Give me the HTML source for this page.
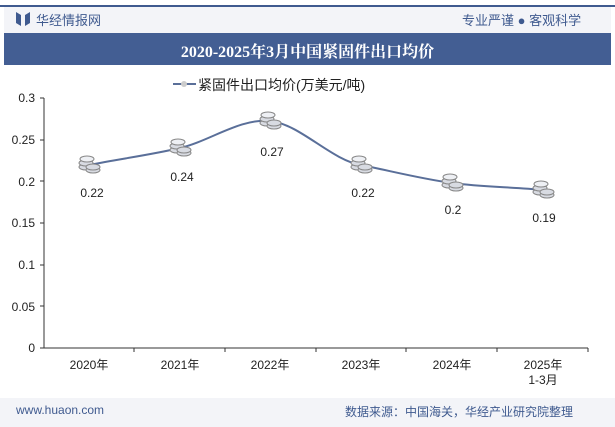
<!DOCTYPE html>
<html><head><meta charset="utf-8"><style>
body{margin:0;width:615px;height:427px;background:#fff;font-family:"Liberation Sans","Noto Sans CJK SC",sans-serif;overflow:hidden;position:relative}
.t{position:absolute;white-space:nowrap}
</style></head><body>
<div style="position:absolute;left:0;top:5px;width:615px;height:2px;background:#3f5a8f"></div>
<div style="position:absolute;left:4px;top:33px;width:607px;height:32px;background:#435e93"></div>
<div style="position:absolute;left:4px;top:7px;width:607px;height:26px;background:#f3f4f8"></div>
<div style="position:absolute;left:0;top:398px;width:615px;height:29px;background:#f3f4f8"></div>
<svg style="position:absolute;left:16px;top:12px" width="14" height="14"><path d="M0 0L5 3V14L0 11Z M14 0L9 3V14L14 11Z" fill="#3f5a8f"/></svg>
<div class="t" style="left:36px;top:10px;font-size:13px;color:#3f5a8f">华经情报网</div>
<div class="t" style="left:462px;top:10px;font-size:13px;color:#3f5a8f">专业严谨 ● 客观科学</div>
<div class="t" style="left:0;width:615px;top:39px;text-align:center;font-size:16px;font-weight:bold;color:#fff;font-family:'Liberation Serif','Noto Serif CJK SC',serif">2020-2025年3月中国紧固件出口均价</div>
<svg style="position:absolute;left:0;top:0" width="615" height="427">
<defs>
<g id="c" fill="#d8dbe2" stroke="#888" stroke-width="1">
<ellipse cx="-3" cy="2" rx="7" ry="3"/><ellipse cx="-3" cy="-2" rx="7" ry="3"/><ellipse cx="4" cy="5" rx="7" ry="3"/><ellipse cx="4" cy="2" rx="7" ry="3"/><ellipse cx="-2" cy="-6" rx="7" ry="3" fill="#eef0f4"/>
</g>
</defs>
<line x1="173" y1="84" x2="196" y2="84" stroke="#5a6f99" stroke-width="2"/>
<circle cx="184" cy="84" r="3" fill="#ccc"/>
<g font-size="12" fill="#222" text-anchor="end">
<text x="35" y="102">0.3</text><text x="35" y="144">0.25</text><text x="35" y="186">0.2</text><text x="35" y="227">0.15</text><text x="35" y="269">0.1</text><text x="35" y="311">0.05</text><text x="35" y="352">0</text>
</g>
<line x1="44" y1="98" x2="44" y2="348" stroke="#333"/>
<g stroke="#333"><line x1="40" y1="98" x2="44" y2="98"/><line x1="40" y1="140" x2="44" y2="140"/><line x1="40" y1="181" x2="44" y2="181"/><line x1="40" y1="223" x2="44" y2="223"/><line x1="40" y1="265" x2="44" y2="265"/><line x1="40" y1="306" x2="44" y2="306"/><line x1="40" y1="348" x2="44" y2="348"/></g>
<line x1="44" y1="348" x2="588" y2="348" stroke="#333"/>
<g stroke="#333"><line x1="134" y1="348" x2="134" y2="352"/><line x1="225" y1="348" x2="225" y2="352"/><line x1="316" y1="348" x2="316" y2="352"/><line x1="406" y1="348" x2="406" y2="352"/><line x1="497" y1="348" x2="497" y2="352"/><line x1="588" y1="348" x2="588" y2="352"/></g>
<g font-size="12" fill="#222" text-anchor="middle">
<text x="89" y="369">2020年</text><text x="180" y="369">2021年</text><text x="270" y="369">2022年</text><text x="361" y="369">2023年</text><text x="452" y="369">2024年</text><text x="543" y="369">2025年</text><text x="543" y="384">1-3月</text>
</g>
<path d="M89 165 C119 159,150 155,180 148 C210 141,240 118,270 121 C300 124,331 160,361 165 C391 171,422 179,452 183 C482 187,513 187,543 190" fill="none" stroke="#5a6f99" stroke-width="2"/>
<use href="#c" x="89" y="165"/><use href="#c" x="180" y="148"/><use href="#c" x="270" y="121"/><use href="#c" x="361" y="165"/><use href="#c" x="452" y="183"/><use href="#c" x="543" y="190"/>
<g font-size="12" fill="#222" text-anchor="middle">
<text x="92" y="197">0.22</text><text x="182" y="181">0.24</text><text x="272" y="156">0.27</text><text x="363" y="197">0.22</text><text x="453" y="214">0.2</text><text x="544" y="222">0.19</text>
</g>
</svg>
<div class="t" style="left:198px;top:75px;font-size:14px;color:#222">紧固件出口均价(万美元/吨)</div>
<div class="t" style="left:16px;top:403px;font-size:12px;color:#3f5a8f">www.huaon.com</div>
<div class="t" style="left:345px;top:403px;font-size:12px;color:#3f5a8f">数据来源：中国海关，华经产业研究院整理</div>
</body></html>
